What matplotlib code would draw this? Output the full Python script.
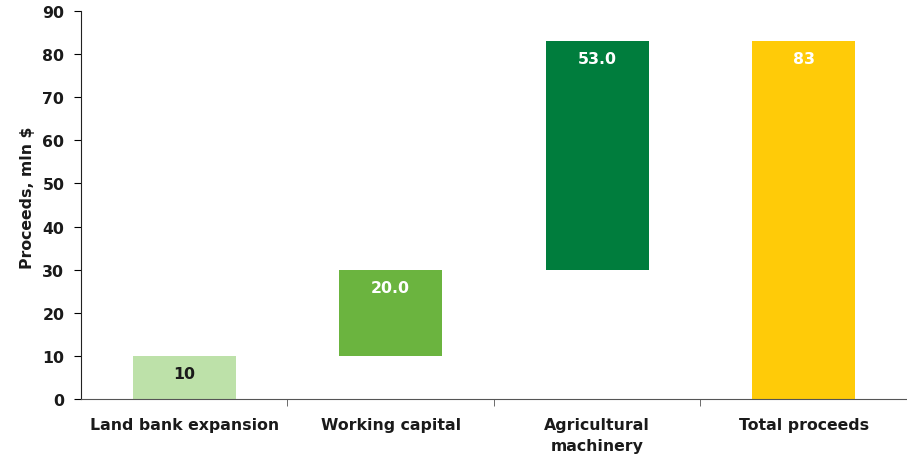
import matplotlib
matplotlib.use("Agg")
import matplotlib.pyplot as plt
import numpy as np

plt.rcParams['font.family'] = ['DejaVu Sans']

categories = ["Land bank expansion", "Working capital", "Agricultural\nmachinery", "Total proceeds"]
amounts = [10, 20, 53, 83]
is_total = [False, False, False, True]
value_labels = ["10", "20.0", "53.0", "83"]
colors = ["#BDE1A9", "#6BB43F", "#007D3D", "#FFCB08"]
label_colors = ["#1a1a1a", "white", "white", "white"]

# waterfall bases: running sum for steps, zero for the total
bases = []
running = 0
for amt, tot in zip(amounts, is_total):
    if tot:
        bases.append(0)
    else:
        bases.append(running)
        running += amt

fig = plt.figure(figsize=(9.07, 4.56), dpi=100)
ax = fig.add_axes([0.0893, 0.1228, 0.9107, 0.8509])

fs = 11.3
x = np.arange(len(categories))
ax.bar(x, amounts, bottom=bases, width=0.5, color=colors, zorder=2)

for xi, b, a, lab, lc in zip(x, bases, amounts, value_labels, label_colors):
    ax.annotate(lab, (xi, b + a), xytext=(0, -12.5), textcoords="offset points",
                ha="center", va="center", color=lc, fontsize=fs, fontweight="bold")

ax.set_xlim(-0.5, len(categories) - 0.5)
ax.set_ylim(0, 90)
ax.set_yticks(np.arange(0, 91, 10))
ax.set_xticks(x)
ax.set_xticklabels(categories, fontsize=fs, fontweight="bold", color="#1a1a1a", linespacing=1.5)
ax.set_xticks(np.arange(0.5, len(categories) - 0.5, 1), minor=True)
ax.tick_params(axis="x", which="major", length=0, pad=13)
ax.tick_params(axis="x", which="minor", length=5, direction="out", color="#555555")
ax.tick_params(axis="y", length=5, direction="out", labelsize=fs, pad=7)
for t in ax.get_yticklabels():
    t.set_fontweight("bold")
    t.set_color("#1a1a1a")

ax.set_ylabel("Proceeds, mln $", fontsize=fs, fontweight="bold", color="#1a1a1a")
ax.yaxis.set_label_coords(-0.056, 0.52)

ax.spines["top"].set_visible(False)
ax.spines["right"].set_visible(False)
ax.spines["left"].set_color("#222222")
ax.spines["bottom"].set_color("#555555")

fig.savefig("out.png", dpi=100)
